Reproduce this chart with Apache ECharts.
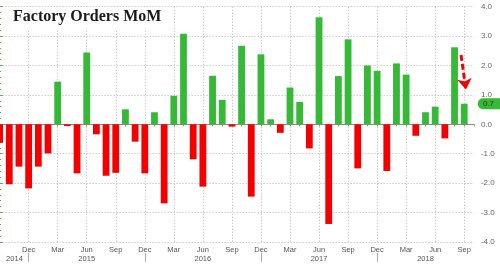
<!DOCTYPE html>
<html>
<head>
<meta charset="utf-8">
<script src="https://cdn.jsdelivr.net/npm/echarts@6/dist/echarts.min.js"></script>
<style>
html,body{margin:0;padding:0;background:#fff;}
#chart{width:500px;height:267px;}
</style>
</head>
<body>
<div id="chart"></div>
<script>
// Months shown (Sep 2014 .. Oct 2018); last category has no bar
var categories = [
  'Sep 2014','Oct 2014','Nov 2014','Dec 2014',
  'Jan 2015','Feb 2015','Mar 2015','Apr 2015','May 2015','Jun 2015','Jul 2015','Aug 2015','Sep 2015','Oct 2015','Nov 2015','Dec 2015',
  'Jan 2016','Feb 2016','Mar 2016','Apr 2016','May 2016','Jun 2016','Jul 2016','Aug 2016','Sep 2016','Oct 2016','Nov 2016','Dec 2016',
  'Jan 2017','Feb 2017','Mar 2017','Apr 2017','May 2017','Jun 2017','Jul 2017','Aug 2017','Sep 2017','Oct 2017','Nov 2017','Dec 2017',
  'Jan 2018','Feb 2018','Mar 2018','Apr 2018','May 2018','Jun 2018','Jul 2018','Aug 2018','Sep 2018','Oct 2018'
];
// Factory orders MoM %
var values = [
  -0.63, -2.04, -1.44, -2.18,
  -1.44, -0.99, 1.45, -0.06, -1.67, 2.44, -0.34, -1.75, -1.65, 0.51, -0.59, -1.67,
  0.41, -2.69, 0.97, 3.08, -1.19, -2.12, 1.65, 0.83, -0.08, 2.67, -2.46, 2.38,
  0.17, -0.29, 1.25, 0.76, -0.82, 3.64, -3.39, 1.64, 2.89, -1.50, 2.00, 1.82,
  -1.59, 2.07, 1.69, -0.39, 0.41, 0.60, -0.48, 2.62, 0.70
];
var yTicks = [-4, -3, -2, -1, 0, 1, 2, 3, 4];
var lastValueLabel = '0.7';
var lastValue = 0.7;
// year labels placed at these category indexes
var yearLabelAt = [2, 9, 21, 33, 44];
// annotation arrow (month index, value)
var arrowFrom = [47.67, 2.36];
var arrowTo = [48.18, 1.18];

var GREEN = '#36b936';
var RED = '#f40000';
var GRID = '#b4b4b4';
var AXIS_GREEN = '#46b446';

var chart = echarts.init(document.getElementById('chart'), null, {renderer: 'canvas'});
var option = {
  animation: false,
  backgroundColor: '#ffffff',
  title: {
    text: 'Factory Orders MoM',
    left: 5, top: 7,
    padding: [2, 6, 6, 8],
    backgroundColor: '#ffffff',
    textStyle: {fontFamily: 'Liberation Serif', fontWeight: 'bold', fontSize: 16, color: '#1a1a1a'}
  },
  grid: {left: -0.4, right: 26.1, top: 6.7, bottom: 25.1, containLabel: false, outerBoundsMode: 'none'},
  xAxis: [
    {
      type: 'category', data: categories, boundaryGap: false, position: 'bottom',
      axisLine: {show: true, lineStyle: {color: '#8c8c8c', width: 1}},
      axisTick: {show: true, interval: 0, length: 2, lineStyle: {color: '#8c8c8c'}},
      axisLabel: {
        show: true, margin: 4, fontSize: 7.5, color: '#555', fontFamily: 'Liberation Sans',
        interval: function (i) { return i % 3 === 0 && i > 0; },
        formatter: function (v) { return v.slice(0, 3); }
      },
      splitLine: {
        show: true,
        interval: function (i) { return i % 3 === 0; },
        lineStyle: {color: GRID, type: [1, 2], width: 1}
      }
    },
    {
      type: 'category', data: categories, boundaryGap: false, position: 'bottom', offset: 11,
      axisLine: {show: false},
      axisTick: {show: true, length: 9, interval: function (i) { return categories[i].slice(0, 3) === 'Dec'; }, lineStyle: {color: '#aaa'}},
      axisLabel: {
        show: true, margin: 2, fontSize: 7.5, color: '#555', fontFamily: 'Liberation Sans',
        interval: function (i) { return yearLabelAt.indexOf(i) >= 0; },
        formatter: function (v, i) { return i === yearLabelAt[0] ? '{p|' + v.slice(4) + '}' : v.slice(4); },
        rich: {p: {fontSize: 7.5, color: '#555', fontFamily: 'Liberation Sans', padding: [0, 9, 0, 0]}}
      },
      splitLine: {show: false}
    },
    {
      type: 'value', min: 0, max: categories.length - 1, show: false
    }
  ],
  yAxis: {
    type: 'value', position: 'right', offset: 3,
    min: yTicks[0], max: yTicks[yTicks.length - 1], interval: 1,
    axisLine: {show: true, lineStyle: {color: AXIS_GREEN, width: 1}},
    axisTick: {show: true, length: 3, inside: false, lineStyle: {color: AXIS_GREEN}},
    minorTick: {show: true, splitNumber: 5, length: 1.5, lineStyle: {color: AXIS_GREEN}},
    axisLabel: {
      show: true, margin: 4, fontSize: 8, color: '#666', fontFamily: 'Liberation Sans',
      formatter: function (v) { return v.toFixed(1); }
    },
    splitLine: {show: true, lineStyle: {color: GRID, type: [1, 2], width: 1}}
  },
  series: [
    {
      type: 'bar', xAxisIndex: 0, data: values, barWidth: 6.8, clip: false,
      itemStyle: {color: function (p) { return p.value >= 0 ? GREEN : RED; }}
    },
    {
      type: 'line', xAxisIndex: 2, data: [], clip: false, showSymbol: false,
      markLine: {
        silent: true,
        symbol: ['none', 'arrow'], symbolSize: [11, 11],
        lineStyle: {color: RED, width: 3, type: [6, 3]},
        label: {show: false},
        data: [
          [{coord: arrowFrom}, {coord: arrowTo}],
          [
            {coord: [0, lastValue], symbol: 'none', lineStyle: {color: 'rgba(0,0,0,0)', width: 0},
             label: {
               show: true, position: 'end', distance: 4, formatter: lastValueLabel, opacity: 1,
               backgroundColor: GREEN, color: '#1e3c1e', fontSize: 8, fontFamily: 'Liberation Sans',
               padding: [2, 12, 1, 5], borderRadius: [5, 0, 0, 5]
             }},
            {coord: [categories.length - 1, lastValue], symbol: 'none'}
          ]
        ]
      }
    }
  ]
};
chart.setOption(option);
</script>
</body>
</html>
